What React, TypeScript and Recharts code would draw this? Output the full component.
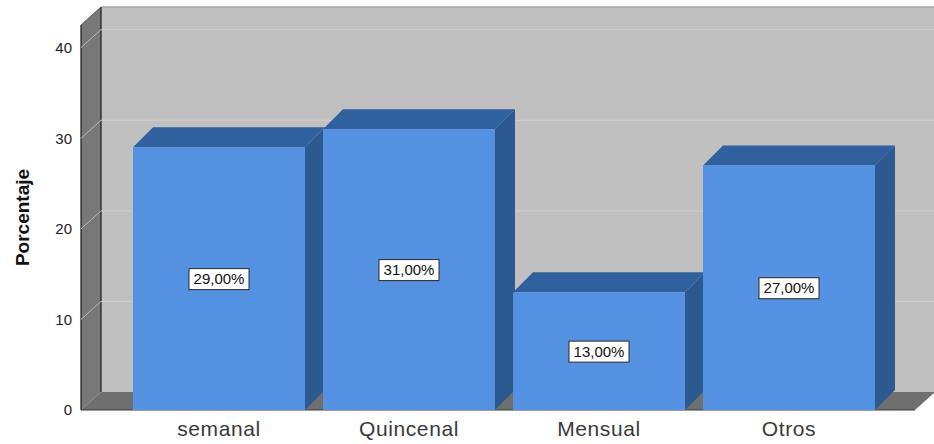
import React from "react";
import { Bar, BarChart, LabelList, ReferenceArea, ReferenceLine, XAxis, YAxis } from "recharts";

const categories = ["semanal", "Quincenal", "Mensual", "Otros"];
const porcentajes = [29, 31, 13, 27];
const yTicks = [0, 10, 20, 30, 40];
const yMax = 42.5;

const data = categories.map((name, i) => ({ name, value: porcentajes[i] }));

// 3D depth offsets
const DX = 20;
const BAR_DY = 20;
const WALL_DY = 18;
// walls reach past the category bands
const WALL_LEFT = 43;
const WALL_RIGHT = 31;

const FONT = '"Liberation Sans", Arial, sans-serif';

function Walls(props: any) {
  const { x, y, width, height } = props;
  const fl = x - WALL_LEFT;
  const fr = x + width + WALL_RIGHT;
  const top = y;
  const bottom = y + height;
  return (
    <g>
      <rect x={fl + DX} y={top - WALL_DY} width={960} height={height} fill="#c0c0c0" />
      <line x1={fl + DX} y1={top - WALL_DY} x2={960} y2={top - WALL_DY} stroke="#a9a9a9" strokeWidth={1.5} />
      <polygon
        points={`${fl},${bottom} ${fl},${top} ${fl + DX},${top - WALL_DY} ${fl + DX},${bottom - WALL_DY}`}
        fill="#787878"
      />
      <polygon
        points={`${fl},${bottom} ${fr},${bottom} ${fr + DX},${bottom - WALL_DY} ${fl + DX},${bottom - WALL_DY}`}
        fill="#6f6f6f"
      />
      <line x1={fl} y1={top} x2={fl} y2={bottom} stroke="#1a1a1a" strokeWidth={1.2} />
      <line x1={fl + DX} y1={top - WALL_DY} x2={fl + DX} y2={bottom - WALL_DY} stroke="#1a1a1a" strokeWidth={1.2} />
      <line x1={fl} y1={top} x2={fl + DX} y2={top - WALL_DY} stroke="#5a5a5a" strokeWidth={1} />
      <line x1={fl} y1={bottom} x2={fr} y2={bottom} stroke="#3a3a3a" strokeWidth={1.2} />
    </g>
  );
}

function GridLine(props: any) {
  const { x1, y1 } = props;
  const fl = x1 - WALL_LEFT;
  return (
    <g>
      <line x1={fl} y1={y1} x2={fl + DX} y2={y1 - WALL_DY} stroke="#b8b8b8" strokeWidth={1} />
      <line x1={fl + DX} y1={y1 - WALL_DY} x2={960} y2={y1 - WALL_DY} stroke="#cfcfcf" strokeWidth={1} />
    </g>
  );
}

function Box3D(props: any) {
  const { x, y, width, height } = props;
  const r = x + width;
  const b = y + height;
  return (
    <g>
      <polygon points={`${x},${y} ${x + DX},${y - BAR_DY} ${r + DX},${y - BAR_DY} ${r},${y}`} fill="#30609e" />
      <polygon points={`${r},${y} ${r + DX},${y - BAR_DY} ${r + DX},${b - BAR_DY} ${r},${b}`} fill="#2d5991" />
      <rect x={x} y={y} width={width} height={height} fill="#5491e0" />
    </g>
  );
}

function ValueTag(props: any) {
  const { x, y, width, height, value } = props;
  const cx = x + width / 2;
  const cy = y + height / 2;
  const text = `${Number(value).toFixed(2).replace(".", ",")}%`;
  return (
    <g>
      <rect x={cx - 30} y={cy - 10} width={60} height={21} fill="#ffffff" stroke="#2a2a2a" strokeWidth={1} />
      <text x={cx} y={cy + 5.5} textAnchor="middle" fontSize={15} fontFamily={FONT} fill="#111">
        {text}
      </text>
    </g>
  );
}

export default function App() {
  return (
    <div style={{ position: "absolute", left: 0, top: 0, background: "#fff" }}>
      <BarChart
        width={934}
        height={444}
        data={data}
        margin={{ top: 25, right: 50, bottom: 0, left: 0 }}
        barCategoryGap={9}
      >
        <ReferenceArea y1={0} y2={yMax} shape={<Walls />} zIndex={-90} isAnimationActive={false} />
        {yTicks.slice(1).map((t) => (
          <ReferenceLine key={t} y={t} shape={(p: any) => <GridLine {...p} />} zIndex={-80} />
        ))}
        <XAxis
          dataKey="name"
          axisLine={false}
          tickLine={false}
          tickSize={0}
          tickMargin={11}
          height={34}
          interval={0}
          tick={{ fontSize: 21, fill: "#3a3a3a", fontFamily: FONT, letterSpacing: 0.6 }}
        />
        <YAxis
          domain={[0, yMax]}
          ticks={yTicks}
          axisLine={false}
          tickLine={false}
          tickSize={0}
          tickMargin={52}
          width={124}
          tick={{ fontSize: 15, fill: "#222", fontFamily: FONT }}
          label={{
            value: "Porcentaje",
            angle: -90,
            position: "insideLeft",
            offset: 22,
            style: { textAnchor: "middle", fontSize: 19, fontWeight: "bold", fill: "#111", fontFamily: FONT },
          }}
        />
        <Bar dataKey="value" shape={<Box3D />} isAnimationActive={false}>
          <LabelList dataKey="value" content={<ValueTag />} />
        </Bar>
      </BarChart>
    </div>
  );
}
